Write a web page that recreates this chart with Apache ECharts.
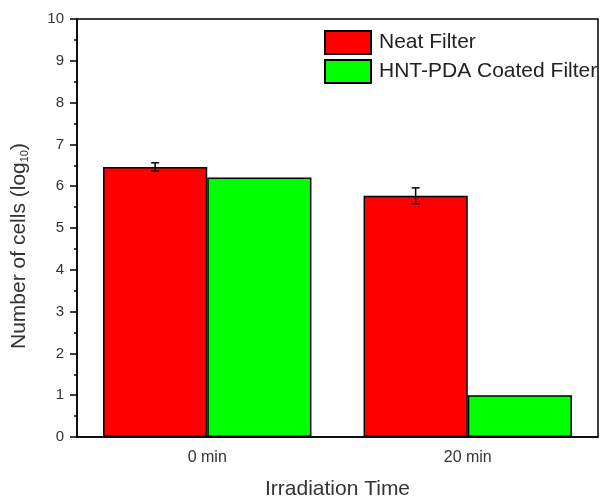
<!DOCTYPE html>
<html><head><meta charset="utf-8">
<script src="https://cdn.jsdelivr.net/npm/echarts@6/dist/echarts.min.js"></script>
<style>html,body{margin:0;padding:0;background:#fff}#c{width:601px;height:497px}</style>
</head><body><div id="c"></div>
<script>
const categories = ['0 min', '20 min'];
const neatValues = [6.46, 5.77];
const neatErrors = [0.1, 0.19];
const coatedValues = [6.21, 1.0];
const seriesNames = ['Neat Filter', 'HNT-PDA Coated Filter'];

const chart = echarts.init(document.getElementById('c'), null, {renderer: 'canvas'});
const font = 'Arial, "Liberation Sans", sans-serif';
chart.setOption({
  animation: false,
  grid: {left: 77, right: 3, top: 19, bottom: 60, show: true, borderColor: '#000', borderWidth: 1.5,
         backgroundColor: 'transparent', containLabel: false, outerBoundsMode: 'none'},
  legend: {
    orient: 'vertical', left: 324, top: 30, itemWidth: 46, itemHeight: 23, itemGap: 4, padding: 0,
    icon: 'rect',
    data: seriesNames,
    textStyle: {fontFamily: font, fontSize: 21, color: '#222', padding: [0, 0, 0, 3]}
  },
  xAxis: [{
    type: 'category', data: categories,
    axisLine: {lineStyle: {color: '#000', width: 1.5}},
    axisTick: {alignWithLabel: true, length: 7, lineStyle: {color: '#000', width: 1.5}},
    axisLabel: {fontFamily: font, fontSize: 16, color: '#333', margin: 13},
    name: 'Irradiation Time', nameLocation: 'middle', nameGap: 42,
    nameTextStyle: {fontFamily: font, fontSize: 21, color: '#333'}
  }, {
    type: 'category', data: categories, position: 'bottom',
    axisLine: {show: false},
    axisTick: {length: 4, lineStyle: {color: '#000', width: 1.5}},
    axisLabel: {show: false}
  }],
  yAxis: {
    type: 'value', min: 0, max: 10, interval: 1,
    axisLine: {show: true, lineStyle: {color: '#000', width: 1.5}},
    axisTick: {show: true, length: 7, lineStyle: {color: '#000', width: 1.5}},
    minorTick: {show: true, splitNumber: 2, length: 3, lineStyle: {color: '#000', width: 1.5}},
    splitLine: {show: false},
    axisLabel: {fontFamily: font, fontSize: 15, color: '#333', margin: 13},
    name: '{a|Number of cells (log}{s|10}{a|)}', nameLocation: 'middle', nameGap: 47,
    nameTextStyle: {padding: [0, 36, 0, 0], rich: {
      a: {fontFamily: font, fontSize: 21, color: '#333'},
      s: {fontFamily: font, fontSize: 11, color: '#333', verticalAlign: 'bottom', padding: [7,0,0,0]}
    }}
  },
  series: [{
    name: seriesNames[0], type: 'bar', data: neatValues, barWidth: '40%', barGap: '0%',
    itemStyle: {color: '#ff0000', borderColor: '#000', borderWidth: 1.5}
  }, {
    name: seriesNames[1], type: 'bar', data: coatedValues, barWidth: '40%', barGap: '0%',
    itemStyle: {color: '#00ff00', borderColor: '#000', borderWidth: 1.5}
  }, {
    type: 'custom', name: 'err', z: 10,
    data: neatValues.map((v, i) => [i, v, neatErrors[i]]),
    renderItem: function (params, api) {
      const i = api.value(0), v = api.value(1), e = api.value(2);
      const band = api.size([1, 0])[0];
      const cx = api.coord([i, v])[0] - band * 0.2;
      const yTop = api.coord([i, v + e])[1];
      const yBot = api.coord([i, v - e])[1];
      const hw = 4;
      const st = {stroke: '#000', lineWidth: 1.5};
      return {type: 'group', children: [
        {type: 'line', shape: {x1: cx, y1: yTop, x2: cx, y2: yBot}, style: st},
        {type: 'line', shape: {x1: cx - hw, y1: yTop, x2: cx + hw, y2: yTop}, style: st},
        {type: 'line', shape: {x1: cx - hw, y1: yBot, x2: cx + hw, y2: yBot}, style: st}
      ]};
    }
  }]
});
</script></body></html>
